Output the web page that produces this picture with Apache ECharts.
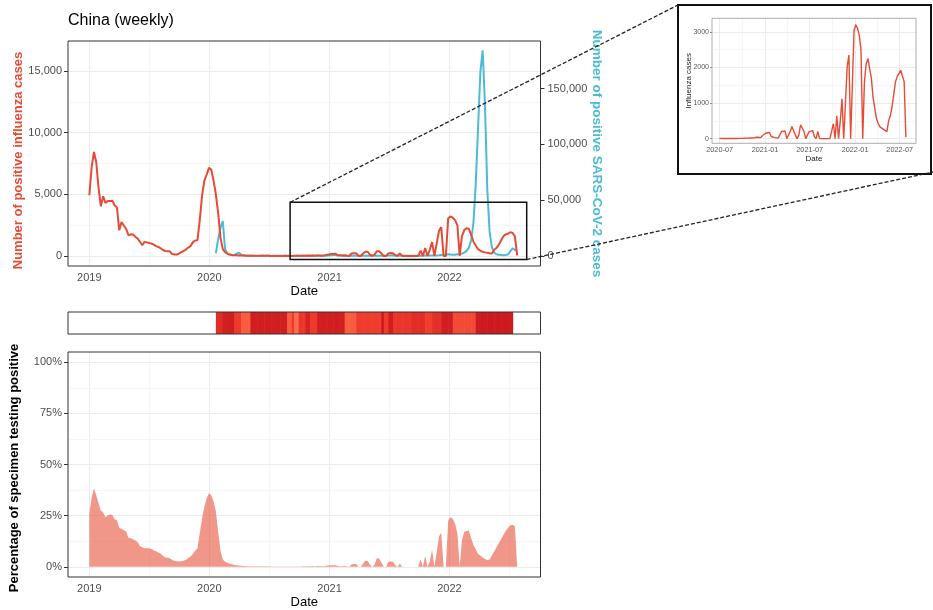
<!DOCTYPE html>
<html><head><meta charset="utf-8">
<script src="https://cdn.jsdelivr.net/npm/echarts@6/dist/echarts.min.js"></script>
<style>html,body{margin:0;padding:0;background:#fff}#c{width:933px;height:610px}</style>
</head><body><div id="c"></div>
<script>
// ---------------- DATA ----------------
const firstWeek = '2019-01-01';            // weekly series start (one value per week)
const fluCases = [
 4920,7200,8430,7600,5500,4030,4840,4300,4460,4450,
 4480,4110,3920,2080,2760,2450,2200,1680,1750,1730,
 1550,1410,1150,870,1140,1100,1050,1000,920,800,
 730,620,480,400,390,380,150,110,110,200,
 310,400,520,680,800,1100,1250,1270,2890,4900,
 6100,6600,7140,7000,6100,5000,3500,1500,550,300,
 180,110,80,60,50,40,35,30,25,25,
 20,20,15,15,12,10,10,10,8,5,
 5,5,5,5,5,8,5,8,5,8,
 8,10,10,20,15,30,20,30,25,45,
 40,20,30,90,120,160,165,175,60,50,
 30,60,20,0,200,210,220,0,0,200,
 345,340,100,0,100,390,380,200,0,0,
 200,233,228,60,0,205,0,0,0,0,
 0,0,0,0,420,0,640,0,500,1120,
 0,1000,2020,2350,0,0,3050,3200,3100,2900,
 2500,0,1600,2100,2250,2200,1700,1150,850,550,
 420,330,290,260,220,200,500,650,900,1250,
 1600,1750,1800,1920,1870,1600,40
];
const sarsCases = [
 null,null,null,null,null,null,null,null,null,null,
 null,null,null,null,null,null,null,null,null,null,
 null,null,null,null,null,null,null,null,null,null,
 null,null,null,null,null,null,null,null,null,null,
 null,null,null,null,null,null,null,null,null,null,
 null,null,null,null,null,2400,15000,25000,31300,6000,
 2500,1200,600,800,2000,2900,1200,600,300,150,
 100,80,60,60,50,100,150,100,80,60,
 80,100,200,250,150,100,80,60,50,60,
 80,70,60,80,100,120,150,100,120,150,
 150,120,150,250,400,700,900,800,500,300,
 150,100,80,80,100,120,100,120,150,100,
 90,80,100,120,100,150,200,150,120,150,
 300,500,600,400,300,200,120,100,100,150,
 200,150,200,300,200,150,300,400,450,500,
 600,500,600,800,1000,1200,1500,1300,1100,1000,
 1500,1800,2200,3000,4500,7500,14000,30000,65000,115000,
 165000,184300,135000,60000,22000,8000,3000,1500,1000,800,
 700,800,1500,4000,6900,5500,4700
];
const pctPositive = [
 26,34,38.3,35,31,27.5,26.5,24.2,25.2,25.5,
 25.3,23.2,22.9,19.0,18.6,17.8,17.2,14.2,14.0,13.5,
 12.8,12.0,10.2,9.5,9.1,9.1,9.1,8.7,8.1,7.6,
 7.0,6.5,5.4,4.5,4.4,4.2,3.3,2.9,2.7,2.6,
 2.7,3.0,3.4,4.3,5.0,6.3,7.8,9.0,16.4,23.5,
 29.5,33.5,35.9,35.0,32.0,27.0,17.0,8.0,3.5,2.5,
 2.0,1.5,1.2,0.9,0.7,0.6,0.5,0.4,0.4,0.3,
 0.3,0.3,0.3,0.2,0.2,0.2,0.2,0.2,0.2,0.1,
 0.1,0.1,0.1,0.1,0.1,0.1,0.1,0.1,0.1,0.1,
 0.1,0.1,0.1,0.2,0.2,0.3,0.2,0.4,0.3,0.4,
 0.4,0.3,0.3,0.5,0.6,0.7,0.75,0.7,0.4,0.3,
 0.3,0.5,0.2,0,1.1,1.3,1.3,0,0,1.5,
 2.9,2.8,1.0,0,1.0,4.2,4.0,2.0,0,0,
 2.3,2.6,2.5,0.8,0,1.5,0,0,0,0,
 0,0,0,0,3.7,0,5.4,0,2.5,8.3,
 0,7.0,14.8,16.7,0,0,22.5,24.2,23.5,21.0,
 16.4,0,13.0,17.1,17.5,17.7,14.0,10.6,8.5,6.3,
 5.5,4.5,3.8,3.2,3.5,5.5,7.5,9.5,11.5,13.5,
 15.5,17.5,19.0,20.3,20.5,19.8,0
];
// heat strip (weekly index, starts at week 55 = 2020-01-21)
const stripFirstWeekIndex = 55;
const stripValues = [
 75,75,75,82,82,82,82,82,68,68,
 68,55,55,55,55,82,82,82,82,82,
 82,82,82,82,82,82,82,82,82,82,
 82,55,55,68,50,50,70,70,70,80,
 80,68,68,68,82,82,82,82,82,82,
 82,82,82,82,82,82,55,55,55,55,
 55,67,67,67,67,67,67,67,67,67,
 67,67,85,68,68,82,82,70,70,70,
 70,70,70,70,70,74,74,74,74,74,
 74,66,66,66,73,73,73,73,82,82,
 82,82,82,62,62,62,62,62,62,62,
 62,62,62,84,84,84,84,84,84,84,
 84,84,84,84,84,84,84,84,84
];
const insetFirstWeekIndex = 78;
const xRange = ['2018-10-28', '2022-10-05'];
const insetXRange = ['2020-05-31', '2022-09-05'];
const yearTicks = ['2019-01-01','2020-01-01','2021-01-01','2022-01-01'];
const midYearLines = ['2019-07-02','2020-07-01','2021-07-02','2022-07-02'];
const fluTicks = [0,5000,10000,15000];
const fluMinor = [2500,7500,12500];
const sarsTicks = [0,50000,100000,150000];
const pctTicks = [0,25,50,75,100];
const pctMinor = [12.5,37.5,62.5,87.5];
const insetXTicks = ['2020-07-01','2021-01-01','2021-07-01','2022-01-01','2022-07-01'];
const insetXMinor = ['2020-10-01','2021-04-01','2021-10-01','2022-04-01'];
const insetYTicks = [0,1000,2000,3000];
const insetYMinor = [500,1500,2500];
const zoomBox = {start:'2020-09-03', end:'2022-08-24', low:-290, high:4350};

// ---------------- HELPERS ----------------
const DAY = 86400000;
function ts(s){ const p = s.split('-').map(Number); return Date.UTC(p[0], p[1]-1, p[2]); }
const t0 = ts(firstWeek);
const weekDate = i => t0 + i*7*DAY;
const comma = v => String(v).replace(/\B(?=(\d{3})+(?!\d))/g, ',');
const FONT = "'Liberation Sans', Arial, sans-serif";
const MAJ = {color:'#ebebeb', width:1, type:'solid'};
const MIN = {color:'#f4f4f4', width:0.8, type:'solid'};

const fluData = fluCases.map((v,i)=>[weekDate(i), v]);
const sarsData = sarsCases.map((v,i)=>[weekDate(i), v]).filter(d=>d[1]!==null);
const pctData = pctPositive.map((v,i)=>[weekDate(i), v]);
const stripData = stripValues.map((v,k)=>[weekDate(stripFirstWeekIndex+k), v]);
const insetData = fluData.slice(insetFirstWeekIndex);

function dateAxis(gridIndex, range, ticks, fmt, show, name, extra){
  return Object.assign({
    type:'value', gridIndex, min: ts(range[0]), max: ts(range[1]),
    splitLine:{show:false}, axisLine:{show:false},
    axisTick:{show:show, length:4, lineStyle:{color:'#333'}, customValues: ticks.map(ts)},
    axisLabel:{show:show, customValues: ticks.map(ts), formatter: fmt, color:'#4d4d4d', fontSize:11, margin:6, fontFamily:FONT, hideOverlap:false},
    name: name || '', nameLocation:'middle', nameGap:19, nameMoveOverlap:false,
    nameTextStyle:{color:'#000', fontSize:13, fontFamily:FONT}
  }, extra||{});
}
const yearFmt = v => String(new Date(v).getUTCFullYear());
const ymFmt = v => { const d = new Date(v); const m = d.getUTCMonth()+1; return d.getUTCFullYear() + '-' + (m<10?'0'+m:m); };

function gridLines(xi, yi, xs, ys){
  const data = [];
  xs[0].forEach(v=>data.push({xAxis: ts(v), lineStyle: MAJ}));
  xs[1].forEach(v=>data.push({xAxis: ts(v), lineStyle: MIN}));
  ys[0].forEach(v=>data.push({yAxis: v, lineStyle: MAJ}));
  ys[1].forEach(v=>data.push({yAxis: v, lineStyle: MIN}));
  return {type:'line', xAxisIndex:xi, yAxisIndex:yi, data:[], silent:true, z:1,
    markLine:{silent:true, z:1, symbol:['none','none'], label:{show:false}, emphasis:{disabled:true}, animation:false, data}};
}

const chart = echarts.init(document.getElementById('c'), null, {renderer:'canvas'});
const option = {
  animation:false,
  textStyle:{fontFamily:FONT},
  title:{text:'China (weekly)', left:68, top:13, padding:0, textStyle:{fontSize:16, fontWeight:'normal', color:'#000', fontFamily:FONT}},
  grid:[
    {left:68, top:41, width:472.5, height:225, show:true, z:10, borderColor:'#333', borderWidth:1, backgroundColor:'rgba(0,0,0,0)', outerBoundsMode:'none'},
    {left:68, top:312, width:472.5, height:22, show:true, z:10, borderColor:'#333', borderWidth:1, backgroundColor:'rgba(0,0,0,0)', outerBoundsMode:'none'},
    {left:68, top:352, width:472.5, height:225, show:true, z:10, borderColor:'#333', borderWidth:1, backgroundColor:'rgba(0,0,0,0)', outerBoundsMode:'none'},
    {left:712, top:18.3, width:204, height:125, show:true, z:10, borderColor:'#999', borderWidth:0.8, backgroundColor:'rgba(0,0,0,0)', outerBoundsMode:'none'}
  ],
  xAxis:[
    dateAxis(0, xRange, yearTicks, yearFmt, true, 'Date'),
    dateAxis(1, xRange, yearTicks, yearFmt, false, ''),
    dateAxis(2, xRange, yearTicks, yearFmt, true, 'Date'),
    dateAxis(3, insetXRange, insetXTicks, ymFmt, true, 'Date', {
      axisTick:{show:true, length:2, lineStyle:{color:'#555', width:0.7}, customValues: insetXTicks.map(ts)},
      axisLabel:{show:true, customValues: insetXTicks.map(ts), formatter: ymFmt, color:'#555', fontSize:7.3, margin:3.5, fontFamily:FONT, hideOverlap:false},
      nameGap:11, nameTextStyle:{color:'#222', fontSize:8, fontFamily:FONT}
    })
  ],
  yAxis:[
    {type:'value', gridIndex:0, min:-815, max:17430, splitLine:{show:false}, axisLine:{show:false},
     axisTick:{show:true, length:4, lineStyle:{color:'#333'}, customValues: fluTicks},
     axisLabel:{customValues: fluTicks, formatter: comma, color:'#4d4d4d', fontSize:11, margin:6, fontFamily:FONT},
     name:'Number of positive influenza cases', nameLocation:'middle', nameGap:43, nameMoveOverlap:false,
     nameTextStyle:{color:'#E64B35', fontSize:13, fontWeight:'bold', fontFamily:FONT, padding:[0,14,0,0]}},
    {type:'value', gridIndex:0, position:'right', min:-9006, max:192600, splitLine:{show:false}, axisLine:{show:false},
     axisTick:{show:true, length:4, lineStyle:{color:'#333'}, customValues: sarsTicks},
     axisLabel:{customValues: sarsTicks, formatter: comma, color:'#4d4d4d', fontSize:11, margin:7, fontFamily:FONT},
     name:'Number of positive SARS-CoV-2 cases', nameLocation:'middle', nameGap:49, nameRotate:-90, nameMoveOverlap:false,
     nameTextStyle:{color:'#4DBBD5', fontSize:13.5, fontWeight:'bold', fontFamily:FONT}},
    {type:'value', gridIndex:1, min:0, max:1, show:false, splitLine:{show:false}},
    {type:'value', gridIndex:2, min:-5, max:105, splitLine:{show:false}, axisLine:{show:false},
     axisTick:{show:true, length:4, lineStyle:{color:'#333'}, customValues: pctTicks},
     axisLabel:{customValues: pctTicks, formatter: v => v + '%', color:'#4d4d4d', fontSize:11, margin:6, fontFamily:FONT},
     name:'Percentage of specimen testing positive', nameLocation:'middle', nameGap:47, nameMoveOverlap:false,
     nameTextStyle:{color:'#000', fontSize:13, fontWeight:'bold', fontFamily:FONT, padding:[0,7,0,0]}},
    {type:'value', gridIndex:3, min:-130, max:3380, splitLine:{show:false}, axisLine:{show:false},
     axisTick:{show:true, length:2, lineStyle:{color:'#555', width:0.7}, customValues: insetYTicks},
     axisLabel:{customValues: insetYTicks, formatter: v => String(v), color:'#555', fontSize:7, margin:3, fontFamily:FONT},
     name:'Influenza cases', nameLocation:'middle', nameGap:19, nameMoveOverlap:false,
     nameTextStyle:{color:'#222', fontSize:8, fontFamily:FONT}}
  ],
  visualMap:{type:'continuous', show:false, seriesIndex:6, dimension:1, min:50, max:85,
    inRange:{color:['#fb6a4a','#ef3b2c','#cb181d']}},
  series:[
    gridLines(0, 0, [yearTicks, midYearLines], [fluTicks, fluMinor]),
    gridLines(2, 3, [yearTicks, midYearLines], [pctTicks, pctMinor]),
    gridLines(3, 4, [insetXTicks, insetXMinor], [insetYTicks, insetYMinor]),
    {type:'line', name:'SARS-CoV-2', xAxisIndex:0, yAxisIndex:1, data:sarsData, showSymbol:false, symbol:'none', z:3,
     lineStyle:{color:'#4DBBD5', width:2}, itemStyle:{color:'#4DBBD5'}},
    {type:'line', name:'Influenza', xAxisIndex:0, yAxisIndex:0, data:fluData, showSymbol:false, symbol:'none', z:4,
     lineStyle:{color:'#E64B35', width:2}, itemStyle:{color:'#E64B35'},
     markArea:{silent:true, z:6, label:{show:false}, itemStyle:{color:'rgba(0,0,0,0)', borderColor:'#111', borderWidth:1.5},
       data:[[{coord:[ts(zoomBox.start), zoomBox.high]}, {coord:[ts(zoomBox.end), zoomBox.low]}]]}},
    {type:'line', name:'Positive %', xAxisIndex:2, yAxisIndex:3, data:pctData, showSymbol:false, symbol:'none', z:2,
     lineStyle:{opacity:0, width:0}, areaStyle:{color:'#E64B35', opacity:0.58}},
    {type:'custom', name:'strip', xAxisIndex:1, yAxisIndex:2, data:stripData, encode:{x:0, y:1}, z:2,
     renderItem:(params, api)=>{
       const t = api.value(0);
       const a = api.coord([t, 1]);
       const b = api.coord([t + 7*DAY, 0]);
       return {type:'rect', shape:{x:a[0], y:a[1], width:b[0]-a[0]+0.6, height:b[1]-a[1]}, style:{fill:api.visual('color')}};
     }},
    {type:'line', name:'Inset influenza', xAxisIndex:3, yAxisIndex:4, data:insetData, showSymbol:false, symbol:'none', z:4,
     lineStyle:{color:'#E64B35', width:1.4}}
  ]
};
chart.setOption(option);

const pTL = chart.convertToPixel({xAxisIndex:0, yAxisIndex:0}, [ts(zoomBox.start), zoomBox.high]);
const pBR = chart.convertToPixel({xAxisIndex:0, yAxisIndex:0}, [ts(zoomBox.end), zoomBox.low]);
const inset = {x:678, y:5, w:253, h:169};
chart.setOption({graphic:[
  {type:'rect', z:30, silent:true, shape:{x:inset.x, y:inset.y, width:inset.w, height:inset.h}, style:{fill:'none', stroke:'#111', lineWidth:2}},
  {type:'line', z:30, silent:true, shape:{x1:pTL[0], y1:pTL[1], x2:inset.x, y2:inset.y}, style:{stroke:'#222', lineWidth:1.3, lineDash:[4,2]}},
  {type:'line', z:30, silent:true, shape:{x1:pBR[0], y1:pBR[1], x2:inset.x+inset.w+2, y2:inset.y+inset.h-2}, style:{stroke:'#222', lineWidth:1.3, lineDash:[4,2]}}
]});
</script></body></html>
